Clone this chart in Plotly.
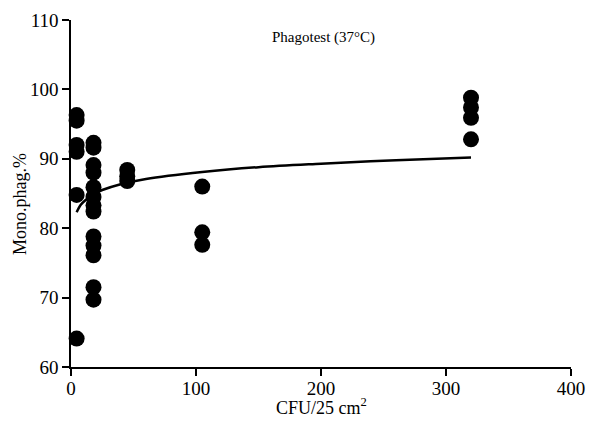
import plotly.graph_objects as go

# Observed points (CFU/25 cm², Mono.phag.%)
pts_x = [4.5, 4.5, 4.5, 4.5, 4.5, 4.5,
         18, 18, 18, 18, 18, 18, 18, 18, 18, 18, 18, 18, 18,
         45, 45, 45,
         105, 105, 105,
         320, 320, 320, 320]
pts_y = [96.3, 95.5, 92.0, 91.0, 84.8, 64.1,
         92.3, 91.6, 89.1, 88.0, 85.9, 84.5, 83.3, 82.4, 78.8, 77.5, 76.1, 71.5, 69.7,
         88.4, 87.5, 86.8,
         86.0, 79.4, 77.6,
         98.8, 97.4, 95.9, 92.8]

# Fitted curve
fit_x = [4.5, 8, 12, 18, 25, 39, 60, 105, 150, 200, 260, 320]
fit_y = [82.3, 83.4, 84.1, 84.9, 85.5, 86.3, 87.1, 88.1, 88.8, 89.3, 89.8, 90.2]

x_ticks = [0, 100, 200, 300, 400]
y_ticks = [60, 70, 80, 90, 100, 110]

FONT = "Liberation Serif, Times New Roman, serif"

fig = go.Figure()
fig.add_trace(go.Scatter(x=pts_x, y=pts_y, mode="markers",
                         marker=dict(size=16, color="black"),
                         cliponaxis=False, showlegend=False))
fig.add_trace(go.Scatter(x=fit_x, y=fit_y, mode="lines", line_shape="spline",
                         line=dict(color="black", width=2.5),
                         showlegend=False))

fig.add_annotation(x=202, y=107.5, text="Phagotest (37°C)", showarrow=False,
                   font=dict(family=FONT, size=15, color="black"))

# Axis titles
fig.add_annotation(xref="paper", yref="paper", x=0.5, y=0, yshift=-39,
                   text="CFU/25 cm<sup>2</sup>", showarrow=False,
                   xanchor="center", yanchor="middle",
                   font=dict(family=FONT, size=18, color="black"))
fig.add_annotation(xref="paper", yref="paper", x=0, y=0.47, xshift=-51,
                   text="Mono.phag.%", showarrow=False, textangle=-90,
                   xanchor="center", yanchor="middle",
                   font=dict(family=FONT, size=18, color="black"))

axis_common = dict(showline=True, linecolor="black", linewidth=1.5,
                   ticks="outside", ticklen=7, tickwidth=1.5, tickcolor="black",
                   showgrid=False, zeroline=False, automargin=False,
                   tickfont=dict(family=FONT, size=19, color="black"))

fig.update_xaxes(range=[0, 400], tickvals=x_ticks, ticklabelstandoff=-4, **axis_common)
fig.update_yaxes(range=[60, 110], tickvals=y_ticks, **axis_common)

# The page body has an 8 px margin, so the figure is shrunk and shifted accordingly
fig.update_layout(width=597, height=416,
                  margin=dict(l=63, r=34, t=12, b=57),
                  plot_bgcolor="white", paper_bgcolor="white")

fig.write_html("out.html")
